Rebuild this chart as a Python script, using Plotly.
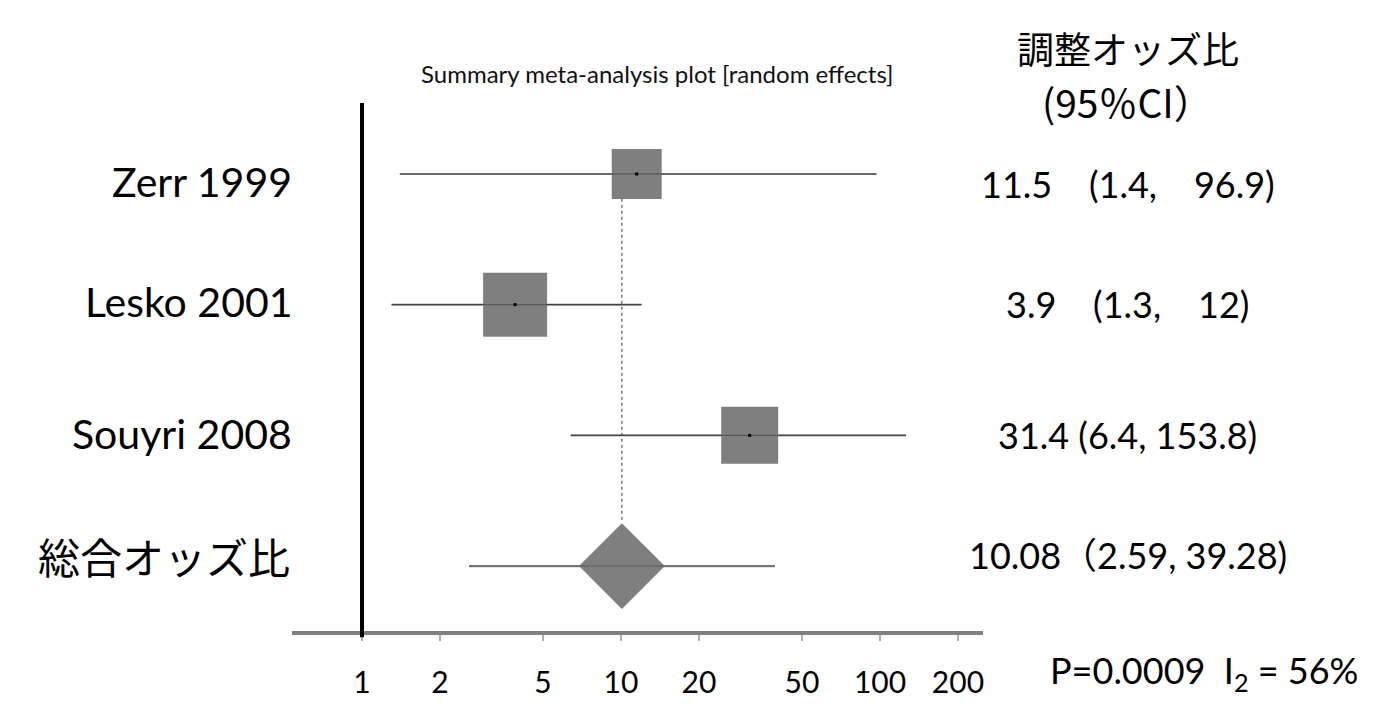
import plotly.graph_objects as go

# ---- data ----
studies = ["Zerr 1999", "Lesko 2001", "Souyri 2008"]
pooled_label = "総合オッズ比"
odds_ratio = [11.5, 3.9, 31.4]
ci_low = [1.4, 1.3, 6.4]
ci_high = [96.9, 12.0, 126.0]          # as drawn in the picture
pooled_or = 10.08
pooled_low = 2.59
pooled_high = 39.28
right_labels = ["11.5\u00a0\u00a0\u00a0\u00a0(1.4,\u00a0\u00a0\u00a0\u00a096.9)",
                "3.9\u00a0\u00a0\u00a0\u00a0(1.3,\u00a0\u00a0\u00a0\u00a012)",
                "31.4 (6.4, 153.8)"]
pooled_text = "10.08（2.59, 39.28)"
tick_vals = [1, 2, 5, 10, 20, 50, 100, 200]
tick_text = ["1", "2", "5", "10", "20", "50", "100", "200"]

# ---- style ----
square_px = [50, 64, 57]
rows = [4, 3, 2]
pooled_row = 1
FONT = "Lato, 'Noto Sans CJK JP', sans-serif"
JP = "'Noto Sans CJK JP', sans-serif"

fig = go.Figure()

# dotted reference line at pooled estimate
fig.add_trace(go.Scatter(x=[pooled_or, pooled_or], y=[rows[0] - 0.19, pooled_row + 0.34], mode="lines",
                         line=dict(color="#333333", width=1, dash="dot"), hoverinfo="skip", showlegend=False))
# CI lines for studies
for i in range(len(studies)):
    fig.add_trace(go.Scatter(x=[ci_low[i], ci_high[i]], y=[rows[i], rows[i]], mode="lines",
                             line=dict(color="#555555", width=1.6), hoverinfo="skip", showlegend=False))
# pooled CI line
fig.add_trace(go.Scatter(x=[pooled_low, pooled_high], y=[pooled_row, pooled_row], mode="lines",
                         line=dict(color="#8a8a8a", width=2.2), hoverinfo="skip", showlegend=False))
# squares
fig.add_trace(go.Scatter(x=odds_ratio, y=rows, mode="markers",
                         marker=dict(symbol="square", size=square_px, color="#7f7f7f", opacity=1,
                                     line=dict(width=0)),
                         hoverinfo="skip", showlegend=False))
# line segment visible over squares (darker)
for i in range(len(studies)):
    fig.add_trace(go.Scatter(x=[ci_low[i], ci_high[i]], y=[rows[i], rows[i]], mode="lines",
                             line=dict(color="#333333", width=1.2), opacity=0.5,
                             hoverinfo="skip", showlegend=False))
# center dots
fig.add_trace(go.Scatter(x=odds_ratio, y=rows, mode="markers",
                         marker=dict(symbol="square", size=3, color="black", opacity=1),
                         hoverinfo="skip", showlegend=False))
# diamond
fig.add_trace(go.Scatter(x=[pooled_or], y=[pooled_row], mode="markers",
                         marker=dict(symbol="diamond", size=66, color="#7f7f7f", opacity=1, line=dict(width=0)),
                         hoverinfo="skip", showlegend=False))
fig.add_trace(go.Scatter(x=[pooled_low, pooled_high], y=[pooled_row, pooled_row], mode="lines",
                         line=dict(color="#555555", width=1.5), opacity=0.5,
                         hoverinfo="skip", showlegend=False))

# thick vertical line at OR = 1
fig.add_shape(type="line", xref="x", yref="paper", x0=1, x1=1, y0=-0.012, y1=1,
              line=dict(color="black", width=4))

annotations = []
label_shift = [-8, 3, 2]
for i, s in enumerate(studies):
    annotations.append(dict(x=0, xref="paper", xshift=2, y=rows[i], yref="y", yshift=label_shift[i],
                            text=s, showarrow=False, xanchor="right", yanchor="middle",
                            font=dict(family=FONT, size=41, color="black")))
    annotations.append(dict(x=1.2098, xref="paper", y=rows[i], yref="y", yshift=label_shift[i] - 2,
                            text=right_labels[i], showarrow=False, xanchor="center", yanchor="middle",
                            font=dict(family=FONT, size=36, color="black")))
annotations.append(dict(x=0, xref="paper", xshift=0, y=pooled_row, yref="y", yshift=11,
                        text=pooled_label, showarrow=False, xanchor="right", yanchor="middle",
                        font=dict(family=JP, size=42, color="black")))
annotations.append(dict(x=1.2098, xref="paper", y=pooled_row, yref="y", yshift=11,
                        text=pooled_text, showarrow=False, xanchor="center", yanchor="middle",
                        font=dict(family=FONT, size=36, color="black")))
annotations.append(dict(x=0.528, xref="paper", y=1.0568, yref="paper", text="Summary meta-analysis plot [random effects]",
                        showarrow=False, xanchor="center", yanchor="middle",
                        font=dict(family=FONT, size=24, color="#111111")))
annotations.append(dict(x=1.2098, xref="paper", y=1.104, yref="paper", text="調整オッズ比",
                        showarrow=False, xanchor="center", yanchor="middle",
                        font=dict(family=JP, size=37, color="black")))
annotations.append(dict(x=1.2098, xref="paper", y=1.004, yref="paper", text="(95％CI）",
                        showarrow=False, xanchor="center", yanchor="middle",
                        font=dict(family=JP, size=39, color="black")))
annotations.append(dict(x=1.094, xref="paper", y=-0.0777, yref="paper",
                        text="P=0.0009\u00a0\u00a0I<sub>2</sub> = 56%",
                        showarrow=False, xanchor="left", yanchor="middle",
                        font=dict(family=FONT, size=36, color="black")))

fig.update_layout(
    width=1378, height=708,
    margin=dict(l=292, r=395, t=103, b=77, autoexpand=False),
    paper_bgcolor="white", plot_bgcolor="white",
    annotations=annotations,
    xaxis=dict(type="log", range=[-0.2703, 2.3977], showgrid=False, zeroline=False,
               showline=True, linecolor="#808080", linewidth=4, automargin=False,
               ticks="outside", ticklen=6, tickwidth=1.5, tickcolor="#b0b0b0",
               tickvals=tick_vals, ticktext=tick_text, ticklabelstandoff=16,
               tickfont=dict(family=FONT, size=30, color="black")),
    yaxis=dict(range=[0.503, 4.543], showgrid=False, zeroline=False, showline=False,
               showticklabels=False, ticks="", automargin=False),
)

fig.write_html("out.html", config={"displayModeBar": False},
               post_script="document.body.style.margin='0';")
